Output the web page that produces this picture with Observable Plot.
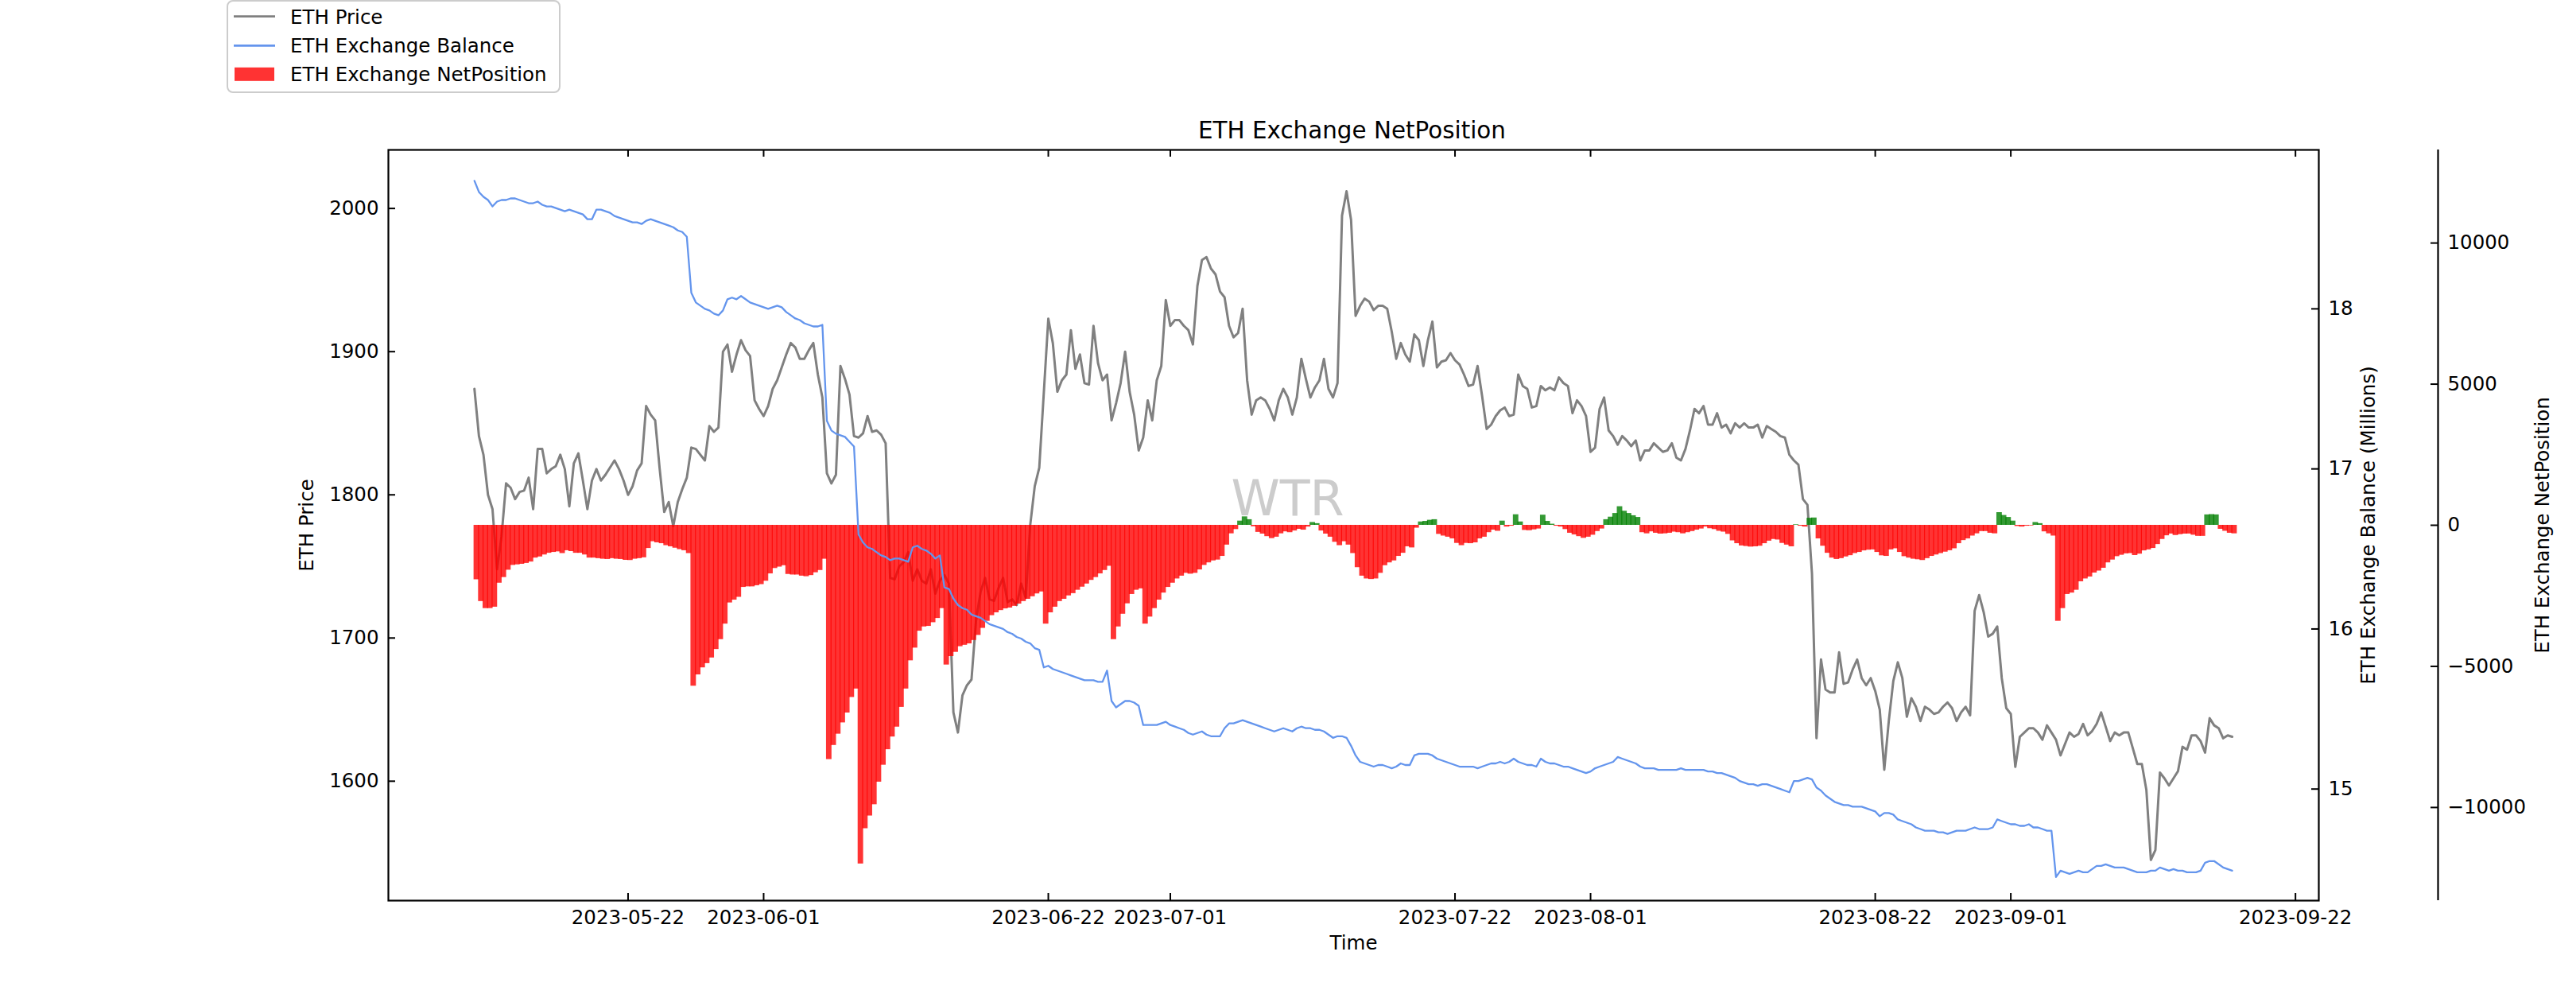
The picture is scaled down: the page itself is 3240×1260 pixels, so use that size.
<!DOCTYPE html>
<html>
<head>
<meta charset="utf-8">
<script src="https://cdn.jsdelivr.net/npm/d3@7"></script>
<script src="https://cdn.jsdelivr.net/npm/@observablehq/plot@0.6"></script>
<style>
  html, body { margin: 0; padding: 0; background: white; }
  #chart { position: relative; width: 3240px; height: 1260px; overflow: hidden; font-family: "DejaVu Sans", sans-serif; }
  #chart > svg { position: absolute; left: 0; top: 0; }
</style>
</head>
<body>
<div id="chart"></div>
<script>
// ---- data (8-hourly samples) ----
const startTime = "2023-05-10T16:00:00Z";
const stepHours = 8;

const price = [
1874,1841,1828,1800,1790,1748,1771,1808,1805,1797,
1802,1803,1812,1790,1832,1832,1815,1818,1820,1828,
1818,1792,1822,1829,1810,1790,1810,1818,1810,1814,
1819,1824,1818,1810,1800,1806,1817,1822,1862,1856,
1852,1818,1788,1795,1778,1795,1804,1812,1833,1832,
1828,1824,1848,1844,1847,1900,1905,1886,1898,1908,
1901,1897,1866,1860,1855,1862,1874,1880,1889,1898,
1906,1903,1895,1895,1901,1906,1884,1868,1815,1808,
1814,1890,1881,1870,1841,1840,1843,1855,1844,1845,
1842,1836,1742,1741,1750,1753,1760,1740,1748,1740,
1738,1748,1731,1740,1744,1738,1648,1634,1660,1667,
1671,1712,1732,1742,1727,1726,1735,1742,1725,1727,
1723,1738,1728,1779,1806,1819,1871,1923,1906,1872,
1880,1884,1915,1888,1898,1878,1877,1918,1892,1880,
1884,1852,1864,1878,1900,1872,1856,1831,1840,1866,
1852,1880,1890,1936,1918,1922,1922,1918,1915,1905,
1946,1964,1966,1958,1954,1942,1938,1918,1910,1913,
1930,1880,1856,1866,1868,1866,1860,1852,1866,1874,
1868,1856,1868,1895,1881,1868,1875,1880,1895,1874,
1868,1878,1995,2012,1992,1925,1932,1937,1935,1929,
1932,1932,1930,1914,1895,1906,1898,1893,1912,1908,
1890,1908,1921,1889,1893,1894,1899,1894,1891,1884,
1876,1877,1890,1869,1846,1849,1855,1859,1861,1855,
1856,1884,1876,1874,1861,1862,1876,1873,1875,1873,
1882,1878,1876,1857,1866,1862,1855,1830,1833,1860,
1868,1845,1841,1835,1841,1838,1834,1838,1824,1831,
1831,1836,1833,1830,1831,1836,1826,1824,1832,1845,
1860,1857,1862,1849,1849,1857,1847,1849,1843,1850,
1847,1850,1847,1847,1849,1840,1848,1846,1844,1841,
1840,1828,1824,1821,1797,1793,1745,1630,1685,1664,
1662,1662,1690,1668,1669,1678,1685,1672,1667,1672,
1663,1650,1608,1642,1670,1683,1672,1645,1658,1652,
1642,1652,1650,1647,1648,1652,1655,1651,1642,1648,
1652,1646,1719,1730,1718,1701,1703,1708,1672,1651,
1647,1610,1631,1634,1637,1637,1634,1629,1639,1634,
1629,1618,1626,1634,1631,1633,1640,1632,1635,1640,
1648,1638,1628,1634,1632,1634,1634,1623,1612,1612,
1594,1545,1552,1606,1602,1597,1602,1607,1624,1622,
1632,1632,1628,1620,1644,1639,1637,1630,1632,1631
];

// ETH exchange balance, millions
const balance = [
18.80,18.73,18.70,18.68,18.64,18.67,18.68,18.68,18.69,18.69,
18.68,18.67,18.66,18.66,18.67,18.65,18.64,18.64,18.63,18.62,
18.61,18.62,18.61,18.60,18.59,18.56,18.56,18.62,18.62,18.61,
18.60,18.58,18.57,18.56,18.55,18.54,18.54,18.53,18.55,18.56,
18.55,18.54,18.53,18.52,18.51,18.49,18.48,18.45,18.10,18.04,
18.02,18.00,17.99,17.97,17.96,17.99,18.06,18.07,18.06,18.08,
18.06,18.04,18.03,18.02,18.01,18.00,18.01,18.02,18.01,17.98,
17.96,17.94,17.93,17.91,17.90,17.89,17.89,17.90,17.30,17.24,
17.22,17.21,17.20,17.17,17.14,16.59,16.54,16.51,16.50,16.48,
16.46,16.45,16.43,16.44,16.44,16.43,16.42,16.51,16.52,16.50,
16.49,16.47,16.44,16.46,16.26,16.25,16.19,16.15,16.13,16.12,
16.09,16.08,16.07,16.05,16.03,16.02,16.01,16.00,15.98,15.97,
15.95,15.94,15.92,15.91,15.88,15.87,15.76,15.77,15.75,15.74,
15.73,15.72,15.71,15.70,15.69,15.68,15.68,15.68,15.67,15.67,
15.74,15.55,15.51,15.53,15.55,15.55,15.54,15.52,15.40,15.40,
15.40,15.40,15.41,15.42,15.40,15.39,15.38,15.37,15.35,15.34,
15.35,15.36,15.34,15.33,15.33,15.33,15.38,15.41,15.41,15.42,
15.43,15.42,15.41,15.40,15.39,15.38,15.37,15.36,15.37,15.38,
15.37,15.36,15.38,15.39,15.38,15.38,15.37,15.37,15.36,15.34,
15.32,15.33,15.33,15.32,15.27,15.21,15.17,15.16,15.15,15.14,
15.15,15.15,15.14,15.13,15.14,15.16,15.15,15.15,15.21,15.22,
15.22,15.22,15.21,15.19,15.18,15.17,15.16,15.15,15.14,15.14,
15.14,15.14,15.13,15.14,15.15,15.16,15.16,15.17,15.16,15.17,
15.19,15.17,15.16,15.15,15.15,15.14,15.19,15.17,15.16,15.16,
15.15,15.14,15.14,15.13,15.12,15.11,15.10,15.11,15.13,15.14,
15.15,15.16,15.17,15.20,15.19,15.18,15.17,15.16,15.14,15.13,
15.13,15.13,15.12,15.12,15.12,15.12,15.12,15.13,15.12,15.12,
15.12,15.12,15.12,15.11,15.11,15.10,15.10,15.09,15.08,15.07,
15.05,15.04,15.03,15.03,15.02,15.03,15.03,15.02,15.01,15.00,
14.99,14.98,15.05,15.05,15.06,15.07,15.06,15.01,14.99,14.96,
14.94,14.92,14.91,14.90,14.90,14.89,14.89,14.89,14.88,14.87,
14.86,14.83,14.85,14.85,14.84,14.81,14.80,14.79,14.78,14.76,
14.75,14.74,14.74,14.74,14.73,14.73,14.72,14.73,14.74,14.74,
14.74,14.75,14.76,14.75,14.75,14.75,14.76,14.81,14.80,14.79,
14.78,14.78,14.77,14.77,14.78,14.76,14.76,14.75,14.74,14.74,
14.45,14.49,14.48,14.47,14.48,14.49,14.48,14.48,14.50,14.52,
14.52,14.53,14.52,14.51,14.51,14.51,14.50,14.49,14.48,14.48,
14.48,14.49,14.49,14.51,14.50,14.49,14.50,14.49,14.49,14.48,
14.48,14.48,14.49,14.54,14.55,14.55,14.53,14.51,14.50,14.49
];

const netPosition = [
-1929,-2700,-2950,-2950,-2900,-2050,-1850,-1590,-1420,-1400,
-1380,-1350,-1300,-1160,-1120,-1050,-990,-960,-940,-1000,
-900,-930,-990,-990,-1050,-1160,-1160,-1180,-1200,-1210,
-1180,-1200,-1210,-1240,-1246,-1200,-1180,-1150,-820,-580,
-620,-650,-720,-760,-810,-860,-900,-1000,-5700,-5300,
-5050,-4900,-4700,-4400,-4050,-3500,-2750,-2650,-2550,-2200,
-2180,-2180,-2140,-2100,-1980,-1720,-1530,-1480,-1430,-1740,
-1760,-1760,-1800,-1820,-1780,-1680,-1600,-1200,-8300,-7800,
-7400,-7000,-6650,-6100,-5800,-12000,-10750,-10300,-9900,-9100,
-8500,-7950,-7500,-7150,-6450,-5800,-4800,-4350,-3750,-3600,
-3580,-3450,-3300,-2950,-4950,-4650,-4500,-4300,-4250,-4200,
-4080,-3900,-3650,-3400,-3200,-3100,-3020,-2960,-2930,-2870,
-2790,-2700,-2620,-2530,-2430,-2360,-3500,-3100,-2900,-2700,
-2620,-2500,-2420,-2300,-2190,-2080,-1950,-1850,-1720,-1600,
-1450,-4050,-3600,-3150,-2780,-2450,-2300,-2250,-3500,-3250,
-2950,-2650,-2400,-2200,-2050,-1900,-1800,-1700,-1730,-1700,
-1580,-1420,-1330,-1260,-1230,-1100,-700,-300,-150,150,
300,200,-50,-250,-310,-400,-470,-420,-300,-230,
-260,-200,-140,-170,-60,100,60,-200,-310,-420,
-600,-720,-580,-700,-1000,-1500,-1800,-1900,-1920,-1900,
-1700,-1430,-1330,-1260,-1100,-990,-760,-800,-100,120,
140,180,200,-320,-380,-420,-480,-640,-720,-640,
-650,-620,-480,-420,-260,-170,-210,150,-60,-30,
375,120,-180,-190,-160,-130,360,140,40,-30,
-60,-150,-280,-340,-400,-460,-420,-350,-220,-130,
200,290,420,660,500,420,340,280,-260,-300,
-230,-280,-310,-300,-280,-240,-260,-300,-260,-220,
-170,-130,-60,-120,-150,-210,-240,-320,-550,-650,
-730,-750,-770,-760,-740,-650,-560,-500,-520,-640,
-700,-760,20,-30,-60,250,260,-480,-740,-990,
-1160,-1210,-1180,-1120,-1075,-1000,-960,-905,-880,-870,
-960,-1080,-1100,-870,-830,-960,-1110,-1160,-1200,-1220,
-1246,-1180,-1100,-1050,-1000,-950,-900,-830,-650,-540,
-480,-380,-300,-220,-220,-280,-300,450,350,280,
150,-40,-60,-30,-20,100,60,-230,-300,-380,
-3400,-2950,-2450,-2400,-2300,-2000,-1900,-1830,-1690,-1620,
-1520,-1330,-1230,-1110,-1060,-1010,-1000,-1070,-1020,-905,
-870,-819,-680,-500,-370,-307,-360,-330,-310,-307,
-350,-390,-390,370,380,370,-140,-210,-280,-300
];

const xTickDates = ["2023-05-22","2023-06-01","2023-06-22","2023-07-01","2023-07-22","2023-08-01","2023-08-22","2023-09-01","2023-09-22"];
const priceTicks = [1600, 1700, 1800, 1900, 2000];
const balanceTicks = [15, 16, 17, 18];
const netTicks = [-10000, -5000, 0, 5000, 10000];
const seriesNames = ["ETH Price", "ETH Exchange Balance", "ETH Exchange NetPosition"];
const chartTitle = "ETH Exchange NetPosition";

// ---- build table ----
const t0 = new Date(startTime).getTime();
const stepMs = stepHours * 3600 * 1000;
const rows = price.map((p, i) => ({
  t: new Date(t0 + i * stepMs),
  t2: new Date(t0 + (i + 1) * stepMs),
  price: p,
  balance: balance[i],
  net: netPosition[i]
}));
const xTicks = xTickDates.map(s => new Date(s + "T00:00:00Z"));

// ---- layout ----
const W = 3240, H = 1260;
const mTop = 188, mBottom = 128, mLeft = 488, mRight = 324;
const frameW = W - mLeft - mRight, frameH = H - mTop - mBottom;
const xDomain = [new Date("2023-05-04T07:40:00Z"), new Date("2023-09-23T17:17:00Z")];
const FS = 24.5;
const baseStyle = {background: "transparent", fontFamily: "'DejaVu Sans', sans-serif", fontSize: FS + "px", overflow: "visible", color: "black"};
const common = {width: W, height: H, marginTop: mTop, marginBottom: mBottom, marginLeft: mLeft, marginRight: mRight, style: baseStyle};
const plainFmt = d => (d < 0 ? "\u2212" : "") + Math.abs(d);

// Layer A: price (left axis, time axis, frame, title)
const layerA = Plot.plot({
  ...common,
  x: {type: "utc", domain: xDomain},
  y: {domain: [1516.6, 2040.9]},
  marks: [
    Plot.text(["WTR"], {text: d => d, frameAnchor: "top-left", dx: 1131, dy: 459, textAnchor: "middle", lineAnchor: "bottom", fontSize: 62, fill: "#cccccc"}),
    Plot.line(rows, {x: "t", y: "price", stroke: "gray", strokeWidth: 3}),
    Plot.axisY(priceTicks, {anchor: "left", tickSize: 0, tickPadding: 12, tickFormat: plainFmt, label: null}),
    Plot.ruleY(priceTicks, {y: d => d, insetRight: frameW - 9, stroke: "black", strokeWidth: 2}),
    Plot.axisX(xTicks, {anchor: "bottom", tickSize: 0, tickPadding: 12, tickFormat: d3.utcFormat("%Y-%m-%d"), label: null}),
    Plot.ruleX(xTicks, {x: d => d, insetTop: frameH - 9, stroke: "black", strokeWidth: 2}),
    Plot.ruleX(xTicks, {x: d => d, insetBottom: frameH - 9, stroke: "black", strokeWidth: 2}),
    Plot.frame({stroke: "black", strokeWidth: 2.2}),
    Plot.text(["ETH Price"], {text: d => d, frameAnchor: "left", dx: -102, rotate: -90, textAnchor: "middle", lineAnchor: "middle"}),
    Plot.text(["Time"], {text: d => d, frameAnchor: "bottom", dy: 61, textAnchor: "middle", lineAnchor: "bottom"}),
    Plot.text([chartTitle], {text: d => d, frameAnchor: "top", dy: -14.4, dx: -2, textAnchor: "middle", lineAnchor: "bottom", fontSize: 29.4})
  ]
});

// Layer B: net position bars
const layerB = Plot.plot({
  ...common,
  x: {type: "utc", domain: xDomain, axis: null},
  y: {domain: [-13300, 13300], axis: null},
  marks: [
    Plot.rectY(rows, {x1: "t", x2: "t2", y1: 0, y2: "net", insetLeft: -0.6, insetRight: -0.6,
      fill: d => d.net >= 0 ? "green" : "red", fillOpacity: 0.8})
  ]
});

// Layer C: exchange balance (right axis)
const layerC = Plot.plot({
  ...common,
  x: {type: "utc", domain: xDomain, axis: null},
  y: {domain: [14.303, 18.993]},
  marks: [
    Plot.line(rows, {x: "t", y: "balance", stroke: "cornflowerblue", strokeWidth: 2.3}),
    Plot.axisY(balanceTicks, {anchor: "right", tickSize: 0, tickPadding: 12, tickFormat: plainFmt, label: null}),
    Plot.ruleY(balanceTicks, {y: d => d, insetLeft: frameW - 9, stroke: "black", strokeWidth: 2}),
    Plot.text(["ETH Exchange Balance (Millions)"], {text: d => d, frameAnchor: "right", dx: 63, rotate: -90, textAnchor: "middle", lineAnchor: "middle"})
  ]
});

// Layer D: net position axis (offset spine)
const dLeft = 2900, dRight = 174;
const layerD = Plot.plot({
  width: W, height: H, marginTop: mTop, marginBottom: mBottom, marginLeft: dLeft, marginRight: dRight, style: baseStyle,
  x: {domain: [0, 1], axis: null},
  y: {domain: [-13300, 13300]},
  marks: [
    Plot.ruleX([1], {x: d => d, stroke: "black", strokeWidth: 2.2}),
    Plot.ruleY(netTicks, {y: d => d, insetLeft: (W - dLeft - dRight) - 9, stroke: "black", strokeWidth: 2}),
    Plot.axisY(netTicks, {anchor: "right", tickSize: 0, tickPadding: 12, tickFormat: plainFmt, label: null}),
    Plot.text(["ETH Exchange NetPosition"], {text: d => d, frameAnchor: "right", dx: 132, rotate: -90, textAnchor: "middle", lineAnchor: "middle"})
  ]
});

const chart = document.getElementById("chart");
[layerA, layerB, layerC, layerD].forEach(s => chart.appendChild(s));

// ---- legend (outside the plot, top-left) ----
const legendColors = [{type: "line", color: "gray"}, {type: "line", color: "cornflowerblue"}, {type: "patch", color: "red"}];
const leg = d3.create("svg").attr("width", 720).attr("height", 130)
  .style("position", "absolute").style("left", "0px").style("top", "0px")
  .style("font-family", "'DejaVu Sans', sans-serif").style("font-size", FS + "px");
leg.append("rect").attr("x", 286).attr("y", 1).attr("width", 418).attr("height", 115)
  .attr("rx", 7).attr("fill", "white").attr("fill-opacity", 0.8).attr("stroke", "#cccccc").attr("stroke-width", 2);
const rowY = [20.7, 57.3, 93.3];
seriesNames.forEach((name, i) => {
  const c = legendColors[i];
  if (c.type === "line") {
    leg.append("line").attr("x1", 294).attr("x2", 346).attr("y1", rowY[i]).attr("y2", rowY[i])
      .attr("stroke", c.color).attr("stroke-width", 2.8);
  } else {
    leg.append("rect").attr("x", 295).attr("y", rowY[i] - 8.5).attr("width", 50).attr("height", 17)
      .attr("fill", c.color).attr("fill-opacity", 0.8);
  }
  leg.append("text").attr("x", 365).attr("y", rowY[i]).attr("dy", "0.36em").attr("fill", "black").text(name);
});
chart.appendChild(leg.node());
</script>
</body>
</html>
